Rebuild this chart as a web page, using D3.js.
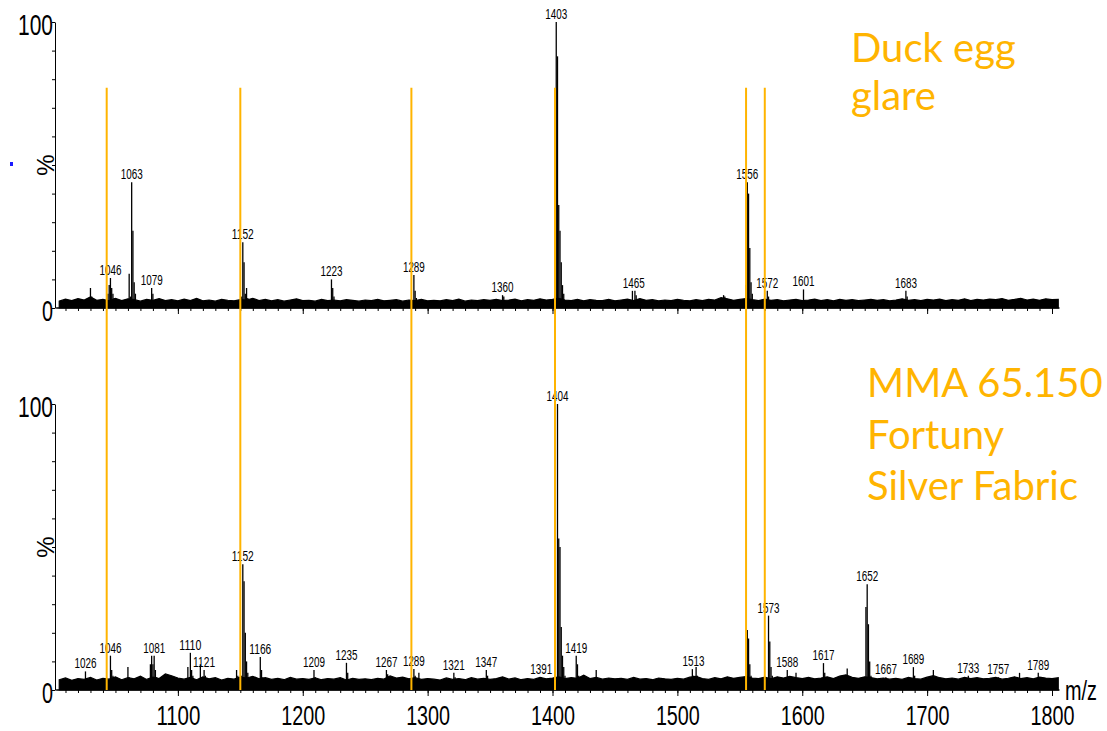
<!DOCTYPE html>
<html>
<head>
<meta charset="utf-8">
<script src="https://cdn.jsdelivr.net/npm/d3@7/dist/d3.min.js"></script>
<style>
  body { margin: 0; background: #fff; }
  svg { display: block; }
</style>
</head>
<body>
<svg id="chart" width="1107" height="731"></svg>
<script>
// ---- data (m/z, relative intensity %) ----

// Duck egg glare spectrum: peaks + isotope tails
var topSticks = [
    [1030, 7], [1031, 4],
    [1044, 5], [1045, 8], [1046, 10.5], [1047, 7], [1048, 5], [1049, 3.5],
    [1061, 12], [1062, 4], [1063, 44], [1064, 27], [1065, 9], [1066, 5],
    [1079, 7], [1080, 5],
    [1151, 4], [1152, 23], [1153, 16], [1154, 5], [1155, 7], [1156, 3.5],
    [1223, 10], [1224, 7], [1225, 4],
    [1289, 11.5], [1290, 6], [1291, 3.5],
    [1360, 4.5], [1361, 4],
    [1403, 100], [1404, 88], [1405, 36], [1406, 27], [1407, 16], [1408, 8], [1409, 5],
    [1464, 6], [1466, 6], [1467, 4.5],
    [1537, 4.5], [1538, 4],
    [1555, 8], [1556, 44], [1557, 40], [1558, 21], [1559, 9], [1560, 5],
    [1572, 6], [1573, 4],
    [1601, 6.5],
    [1683, 6], [1684, 4]
];
var topLabels = [1046, 1063, 1079, 1152, 1223, 1289, 1360, 1403, 1465, 1556, 1572, 1601, 1683];

// MMA 65.150 Fortuny Silver Fabric spectrum
var botSticks = [
    [1026, 6.5], [1027, 4],
    [1046, 12], [1047, 7], [1048, 5],
    [1060, 8], [1061, 4.5],
    [1078, 9], [1079, 12], [1080, 9], [1081, 12], [1082, 7], [1083, 4.5],
    [1108, 8], [1110, 13], [1111, 7], [1112, 5],
    [1118, 9], [1121, 7], [1122, 5],
    [1147, 7], [1148, 5],
    [1151, 5], [1152, 44], [1153, 38], [1154, 20], [1155, 10], [1156, 6],
    [1166, 11.5], [1167, 7], [1168, 4.5],
    [1209, 7], [1210, 4.5],
    [1235, 9.5], [1236, 6],
    [1267, 7], [1268, 5.5],
    [1289, 7.3], [1290, 5], [1293, 6],
    [1321, 6], [1322, 4.5],
    [1347, 7], [1348, 5],
    [1391, 4.5],
    [1404, 100], [1405, 53], [1406, 50], [1407, 22], [1408, 12], [1409, 8], [1410, 5],
    [1419, 12], [1420, 9], [1421, 5],
    [1435, 7],
    [1512, 7.3], [1513, 5], [1515, 8], [1516, 5],
    [1556, 21], [1557, 18], [1558, 9], [1559, 5],
    [1573, 26], [1574, 17], [1575, 8], [1576, 5],
    [1588, 7], [1595, 6],
    [1617, 9.4], [1618, 6],
    [1636, 7.5],
    [1651, 29], [1652, 37], [1653, 23], [1654, 10], [1655, 5],
    [1667, 4.5],
    [1689, 8], [1690, 5],
    [1705, 7],
    [1733, 5], [1757, 4.5], [1774, 6], [1789, 6], [1790, 4.5]
];
var botLabels = [1026, 1046, 1081, 1110, 1121, 1152, 1166, 1209, 1235, 1267, 1289, 1321, 1347,
    1391, 1404, 1419, 1513, 1573, 1588, 1617, 1652, 1667, 1689, 1733, 1757, 1789];

// baseline noise, every 5 m/z from 1005 to 1805
var topNoise = [
    2.4, 3.1, 2.6, 3.3, 2.8, 3.9, 2.7, 3.0, 2.5, 3.4,
    2.6, 3.2, 2.9, 2.4, 3.0, 2.7, 3.3, 2.6, 2.9, 2.5,
    3.1, 2.6, 3.4, 2.5, 2.8, 2.4, 3.0, 2.7, 2.5, 2.9,
    2.8, 3.4, 2.6, 3.0, 2.5, 2.9, 2.4, 2.8, 3.2, 2.6,
    2.7, 2.4, 3.0, 2.6, 2.8, 2.5, 2.9, 2.7, 2.4, 2.8,
    2.6, 3.0, 2.5, 2.7, 2.9, 2.4, 2.8, 2.6, 3.0, 2.5,
    2.7, 2.5, 2.9, 2.6, 3.1, 2.4, 2.8, 2.6, 2.9, 2.7,
    3.0, 2.6, 2.8, 3.1, 2.5, 2.9, 2.7, 3.2, 2.8, 3.0,
    3.4, 2.8, 2.6, 3.0, 2.5, 2.9, 2.7, 2.6, 3.0, 2.5,
    2.8, 3.1, 2.6, 3.3, 2.7, 2.9, 2.5, 2.8, 2.6, 3.0,
    2.7, 2.5, 2.9, 2.6, 3.0, 2.8, 3.6, 3.2, 2.7, 3.0,
    3.3, 2.9, 2.6, 3.1, 2.7, 2.9, 2.5, 2.8, 3.0, 2.6,
    2.8, 3.1, 2.6, 2.9, 2.5, 3.0, 2.7, 2.9, 2.6, 2.8,
    3.0, 2.7, 2.9, 2.5, 2.8, 3.2, 2.7, 2.9, 2.6, 3.0,
    2.8, 3.1, 2.6, 2.9, 2.7, 3.2, 2.6, 3.0, 2.8, 3.1,
    2.9, 3.3, 2.7, 3.0, 3.4, 2.8, 3.1, 2.7, 3.2, 2.9,
    3.0
];
var botNoise = [
    3.6, 4.2, 3.4, 4.0, 3.7, 4.4, 3.5, 4.1, 3.8, 4.6,
    3.6, 4.3, 3.9, 4.8, 3.7, 4.5, 4.0, 5.6, 5.0, 4.2,
    3.8, 4.4, 3.6, 4.6, 3.9, 4.3, 3.5, 4.1, 3.8, 4.5,
    4.2, 4.8, 3.9, 4.3, 3.7, 4.1, 3.6, 4.4, 3.8, 4.0,
    3.7, 4.2, 3.6, 4.0, 3.8, 4.3, 3.5, 4.1, 3.7, 3.9,
    3.6, 4.1, 3.8, 4.9, 4.2, 4.5, 3.9, 4.3, 3.7, 4.0,
    3.8, 3.5, 4.2, 3.7, 4.0, 3.6, 4.3, 3.8, 4.1, 3.7,
    4.0, 4.6, 3.8, 4.2, 3.6, 4.0, 3.7, 4.4, 3.9, 4.2,
    4.6, 4.0, 4.3, 4.1, 5.2, 4.0, 4.4, 3.8, 4.2, 3.9,
    4.1, 3.7, 4.4, 3.8, 4.0, 3.6, 4.2, 3.9, 3.7, 4.1,
    3.8, 4.5, 4.8, 4.0, 3.7, 4.3, 3.9, 4.6, 4.1, 4.4,
    4.7, 4.2, 4.0, 4.5, 3.9, 4.6, 4.2, 4.8, 4.3, 4.0,
    4.4, 3.9, 4.2, 4.6, 4.0, 4.9, 5.3, 4.4, 4.1, 4.6,
    4.3, 3.9, 4.2, 3.8, 4.1, 3.7, 4.4, 4.0, 3.8, 4.5,
    5.0, 4.3, 3.9, 4.2, 3.8, 4.4, 4.0, 4.3, 3.9, 4.1,
    4.4, 3.8, 4.1, 4.6, 4.0, 4.3, 3.9, 4.5, 4.2, 4.0,
    4.3
];
var noiseMz = d3.range(1005, 1806, 5);

// orange marker lines (m/z)
var markerMz = [1043, 1150, 1287, 1402, 1555, 1570];

var titleTop = ["Duck egg", "glare"];
var titleBot = ["MMA 65.150", "Fortuny", "Silver Fabric"];
var xTickLabels = d3.range(1100, 1801, 100);

var orange = "#FFB400";

var svg = d3.select("#chart");

// Set up the scales
var x = d3.scaleLinear().domain([1000, 1800]).range([53, 1052]);
var yTop = d3.scaleLinear().domain([0, 100]).range([308, 22]);
var yBot = d3.scaleLinear().domain([0, 100]).range([690, 404]);

function drawPanel(sticks, noise, labels, y, showTickLabels) {
    var g = svg.append("g");

    // noise band along the baseline
    var area = d3.area()
        .x(function (d, i) { return x(noiseMz[i]); })
        .y0(y(0))
        .y1(function (d) { return y(d); });
    g.append("path")
        .datum(noise)
        .attr("d", area)
        .attr("fill", "#000")
        .attr("stroke", "#000")
        .attr("stroke-width", 1.2);

    // peaks
    g.selectAll(".stick")
        .data(sticks)
        .enter()
        .append("line")
        .attr("class", "stick")
        .attr("x1", function (d) { return x(d[0]); })
        .attr("x2", function (d) { return x(d[0]); })
        .attr("y1", y(0))
        .attr("y2", function (d) { return y(d[1]); })
        .attr("stroke", "#000")
        .attr("stroke-width", 1.3);

    // peak labels sit just above the highest stick near their m/z
    g.selectAll(".plabel")
        .data(labels)
        .enter()
        .append("text")
        .attr("class", "plabel")
        .attr("x", function (d) { return x(d); })
        .attr("y", function (d) {
            var near = sticks.filter(function (s) { return Math.abs(s[0] - d) <= 1; });
            var top = d3.max(near, function (s) { return s[1]; }) || 5;
            return y(top) - 3;
        })
        .attr("text-anchor", "middle")
        .attr("font-family", "Liberation Sans, Arial, sans-serif")
        .attr("font-size", 14)
        .attr("textLength", 22)
        .attr("lengthAdjust", "spacingAndGlyphs")
        .text(function (d) { return d; });

    // baseline
    g.append("line")
        .attr("x1", x(1002.5))
        .attr("x2", x(1806))
        .attr("y1", y(0))
        .attr("y2", y(0))
        .attr("stroke", "#000")
        .attr("stroke-width", 1.5);

    // x ticks: minor every 10, major every 100
    var minor = g.append("g")
        .attr("transform", "translate(0," + y(0) + ")")
        .call(d3.axisBottom(x).tickValues(d3.range(1010, 1801, 10)).tickSize(3).tickSizeOuter(0).tickFormat(""));
    minor.select(".domain").remove();

    var major = g.append("g")
        .attr("transform", "translate(0," + y(0) + ")")
        .call(d3.axisBottom(x).tickValues(xTickLabels).tickSize(6).tickSizeOuter(0)
            .tickFormat(showTickLabels ? d3.format("d") : ""));
    major.select(".domain").remove();
    major.selectAll("text")
        .attr("y", 35)
        .attr("dy", 0)
        .attr("font-family", "Liberation Sans, Arial, sans-serif")
        .attr("font-size", 28)
        .attr("fill", "#000")
        .attr("textLength", 44)
        .attr("lengthAdjust", "spacingAndGlyphs");
    g.selectAll(".tick line").attr("stroke", "#000");

    // y axis
    var yAxis = g.append("g")
        .attr("transform", "translate(55,0)")
        .call(d3.axisLeft(y).tickValues(d3.range(0, 101, 10)).tickSize(3).tickSizeOuter(0).tickFormat(""));
    yAxis.select(".domain").attr("stroke", "#000");

    g.append("text")
        .attr("x", 53)
        .attr("y", y(100) + 13)
        .attr("text-anchor", "end")
        .attr("font-family", "Liberation Sans, Arial, sans-serif")
        .attr("font-size", 30)
        .attr("textLength", 35)
        .attr("lengthAdjust", "spacingAndGlyphs")
        .text("100");
    g.append("text")
        .attr("x", 53)
        .attr("y", y(0) + 13)
        .attr("text-anchor", "end")
        .attr("font-family", "Liberation Sans, Arial, sans-serif")
        .attr("font-size", 30)
        .attr("textLength", 11)
        .attr("lengthAdjust", "spacingAndGlyphs")
        .text("0");
    g.append("text")
        .attr("transform", "translate(54," + y(50) + ") rotate(-90)")
        .attr("text-anchor", "middle")
        .attr("font-family", "Liberation Sans, Arial, sans-serif")
        .attr("font-size", 24)
        .text("%");
}

drawPanel(topSticks, topNoise, topLabels, yTop, false);
drawPanel(botSticks, botNoise, botLabels, yBot, true);

// m/z axis title
svg.append("text")
    .attr("x", 1065)
    .attr("y", yBot(0) + 10)
    .attr("font-family", "Liberation Sans, Arial, sans-serif")
    .attr("font-size", 28)
    .attr("textLength", 32)
    .attr("lengthAdjust", "spacingAndGlyphs")
    .text("m/z");

// small blue mark left of the top axis
svg.append("rect")
    .attr("x", 10)
    .attr("y", 162)
    .attr("width", 3)
    .attr("height", 4)
    .attr("fill", "#1a1aff");

// orange marker lines across both spectra
svg.selectAll(".marker")
    .data(markerMz)
    .enter()
    .append("line")
    .attr("class", "marker")
    .attr("x1", function (d) { return x(d); })
    .attr("x2", function (d) { return x(d); })
    .attr("y1", yTop(77))
    .attr("y2", yBot(0))
    .attr("stroke", orange)
    .attr("stroke-width", 2);

// sample titles
svg.append("g").selectAll("text")
    .data(titleTop)
    .enter()
    .append("text")
    .attr("x", 851)
    .attr("y", function (d, i) { return 62 + i * 48; })
    .attr("font-family", "Lato, sans-serif")
    .attr("font-size", 40)
    .attr("fill", orange)
    .text(function (d) { return d; });

svg.append("g").selectAll("text")
    .data(titleBot)
    .enter()
    .append("text")
    .attr("x", 867)
    .attr("y", function (d, i) { return 397 + i * 51.5; })
    .attr("font-family", "Lato, sans-serif")
    .attr("font-size", 40)
    .attr("fill", orange)
    .text(function (d) { return d; });
</script>
</body>
</html>
